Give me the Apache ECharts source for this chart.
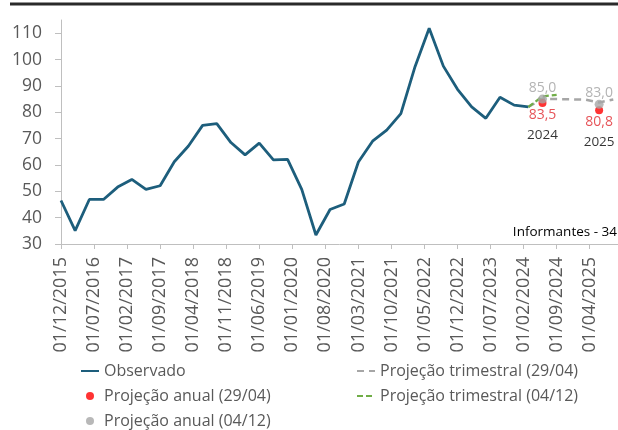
<!DOCTYPE html>
<html>
<head>
<meta charset="utf-8">
<title>Observado e projeções</title>
<script src="https://cdn.jsdelivr.net/npm/echarts@6/dist/echarts.min.js"></script>
<style>
  html, body { margin: 0; padding: 0; background: #fff; }
  #chart { width: 618px; height: 430px; }
</style>
</head>
<body>
<div id="chart"></div>
<script>
// eixo x mensal: 01/12/2015 ... 01/10/2025
const months = [];
for (let y = 2015, m = 12; y < 2025 || m <= 10; ) {
  months.push('01/' + String(m).padStart(2, '0') + '/' + y);
  m++;
  if (m > 12) { m = 1; y++; }
}

// série observada (trimestral, a partir de 01/12/2015)
const observado = [
  46.5, 35.1, 46.9, 46.9, 51.6, 54.5, 50.7, 52.1, 61.2, 67.2,
  75.0, 75.7, 68.5, 63.8, 68.3, 61.9, 62.1, 50.7, 33.4, 43.1,
  45.2, 61.1, 69.0, 73.2, 79.5, 97.3, 111.9, 97.5, 88.7, 82.0,
  77.7, 85.7, 82.7, 82.0
];
const observadoDates = months.filter((_, i) => i % 3 === 0).slice(0, observado.length);

// projeção trimestral (29/04)
const trim2904Dates = ['01/03/2024', '01/06/2024', '01/09/2024', '01/12/2024', '01/03/2025', '01/06/2025', '01/09/2025'];
const trim2904 = [82.0, 85.1, 85.0, 84.9, 84.8, 83.7, 84.8];

// projeção trimestral (04/12)
const trim0412Dates = ['01/03/2024', '01/06/2024', '01/09/2024'];
const trim0412 = [82.0, 86.0, 86.6];

// projeções anuais
const anualDates = ['01/06/2024', '01/06/2025'];
const anos = ['2024', '2025'];
const anual2904 = [83.5, 80.8];
const anual0412 = [85.0, 83.0];

const yTicks = [30, 40, 50, 60, 70, 80, 90, 100, 110];

const FONT = "'Open Sans', sans-serif";
const pairs = (dates, vals) => vals.map((v, i) => [dates[i], v]);
const fmt = v => v.toFixed(1).replace('.', ',');
const noDot = { color: 'rgba(0,0,0,0)', opacity: 0 };

const legendBase = {
  orient: 'vertical',
  top: 362.5,
  padding: 0,
  itemWidth: 18,
  itemHeight: 8,
  itemGap: 8,
  textStyle: { fontFamily: FONT, fontSize: 16, color: '#595959', lineHeight: 17 }
};

const chart = echarts.init(document.getElementById('chart'));
chart.setOption({
  animation: false,
  backgroundColor: '#fff',
  textStyle: { fontFamily: FONT },
  title: {
    text: 'Informantes - 34',
    right: 1,
    top: 225,
    padding: 0,
    textStyle: { fontFamily: FONT, fontSize: 13.5, fontWeight: 'normal', color: '#000' }
  },
  graphic: [{
    type: 'line',
    shape: { x1: 10, y1: 4, x2: 618, y2: 4 },
    style: { stroke: '#2a2a2a', lineWidth: 3 }
  }],
  grid: { left: 61, right: 0, top: 20, bottom: 186, containLabel: false },
  legend: [Object.assign({}, legendBase, {
    left: 80,
    data: [
      { name: 'Observado', itemStyle: noDot },
      'Projeção anual (29/04)',
      'Projeção anual (04/12)'
    ]
  }), Object.assign({}, legendBase, {
    left: 356,
    data: [
      { name: 'Projeção trimestral (29/04)', itemStyle: noDot },
      { name: 'Projeção trimestral (04/12)', itemStyle: noDot }
    ]
  })],
  xAxis: {
    type: 'category',
    data: months,
    boundaryGap: false,
    axisLine: { lineStyle: { color: '#bfbfbf', width: 1 } },
    axisTick: { interval: 6, length: 5, lineStyle: { color: '#bfbfbf' } },
    axisLabel: {
      interval: 6,
      rotate: 90,
      margin: 13,
      fontFamily: FONT,
      fontSize: 18,
      color: '#595959'
    },
    splitLine: { show: false }
  },
  yAxis: {
    type: 'value',
    min: 30,
    max: 115,
    interval: 10,
    axisLine: { show: true, lineStyle: { color: '#bfbfbf', width: 1 } },
    axisTick: { show: true, length: 6, customValues: yTicks, lineStyle: { color: '#bfbfbf' } },
    axisLabel: { margin: 19, customValues: yTicks, fontFamily: FONT, fontSize: 17.5, color: '#595959' },
    splitLine: { show: false }
  },
  series: [{
    name: 'Observado',
    type: 'line',
    data: pairs(observadoDates, observado),
    symbol: 'none',
    z: 3,
    lineStyle: { color: '#1d5e7c', width: 2.8 },
    itemStyle: { color: '#1d5e7c' }
  }, {
    name: 'Projeção trimestral (29/04)',
    type: 'line',
    data: pairs(trim2904Dates, trim2904),
    symbol: 'none',
    z: 2,
    lineStyle: { color: '#a6a6a6', width: 2.5, type: [7, 5] },
    itemStyle: { color: '#a6a6a6' }
  }, {
    name: 'Projeção trimestral (04/12)',
    type: 'line',
    data: pairs(trim0412Dates, trim0412),
    symbol: 'none',
    z: 4,
    lineStyle: { color: '#70ad47', width: 2.3, type: [6, 3] },
    itemStyle: { color: '#70ad47' }
  }, {
    name: 'Projeção anual (29/04)',
    type: 'scatter',
    data: pairs(anualDates, anual2904),
    symbolSize: 8,
    z: 5,
    itemStyle: { color: '#ff0000' },
    label: {
      show: true,
      position: 'bottom',
      distance: 0,
      formatter: p => '{v|' + fmt(p.value[1]) + '}\n{y|' + anos[p.dataIndex] + '}',
      rich: {
        v: { fontFamily: FONT, fontSize: 14, color: '#e0282e', lineHeight: 16 },
        y: { fontFamily: FONT, fontSize: 13.5, color: '#000', lineHeight: 25 }
      }
    }
  }, {
    name: 'Projeção anual (04/12)',
    type: 'scatter',
    data: pairs(anualDates, anual0412),
    symbolSize: 9,
    z: 6,
    itemStyle: { color: '#a6a6a6' },
    label: {
      show: true,
      position: 'top',
      distance: 0,
      formatter: p => fmt(p.value[1]),
      fontFamily: FONT,
      fontSize: 14,
      lineHeight: 14,
      color: '#a0a0a0'
    }
  }]
});
</script>
</body>
</html>
